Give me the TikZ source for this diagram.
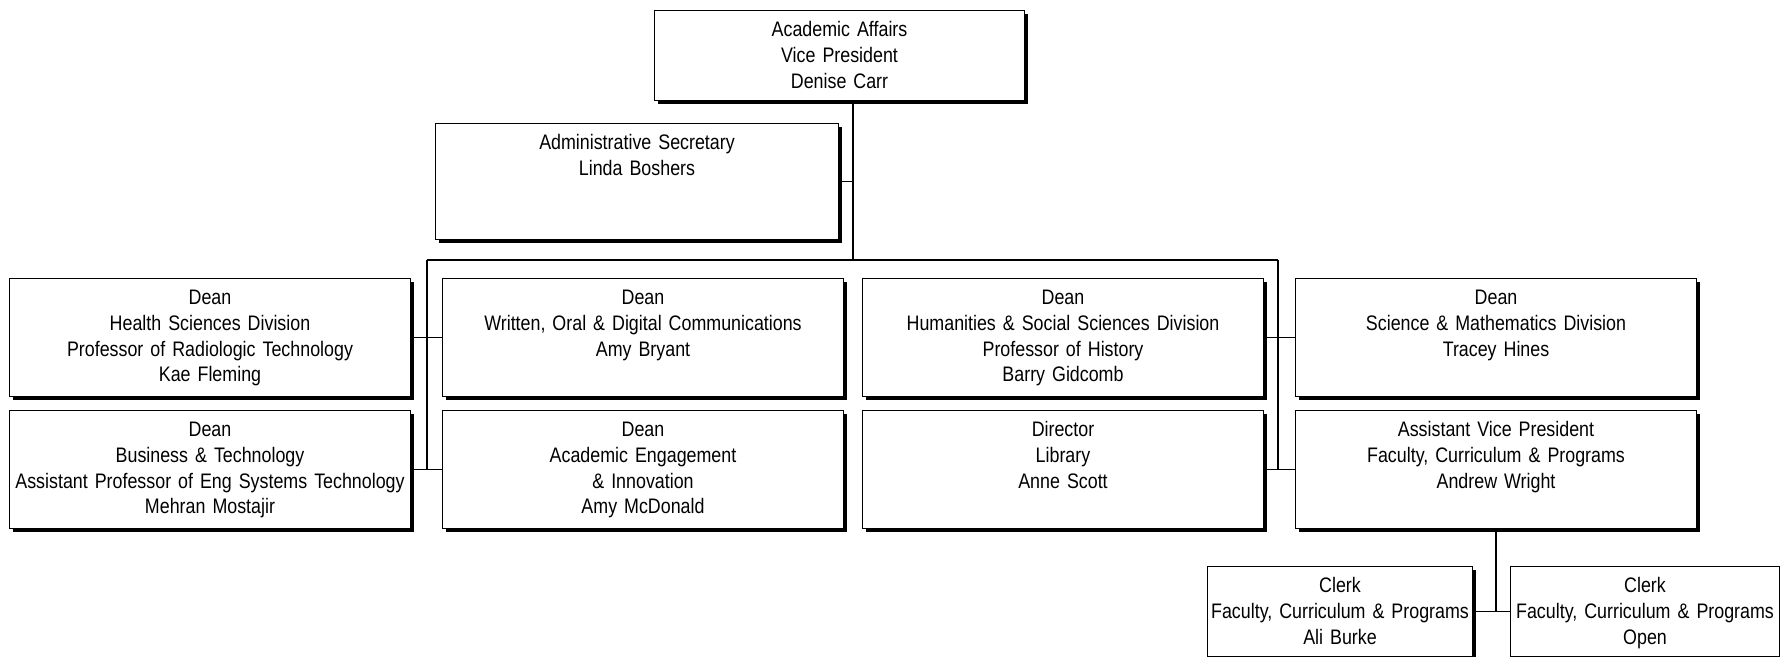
\documentclass[tikz,border=0pt]{standalone}
\usepackage{fontspec}
\setmainfont{Liberation Sans}[FakeStretch=0.85]
\usetikzlibrary{shadows}

\begin{document}
\begin{tikzpicture}[
				x=0.5pt, y=-0.5pt,
				texts/.style = {font=\fontsize{10.5pt}{12.9pt}\selectfont, text=black},
				orgline/.style = {draw=black, line width=0.7pt},
				orgbox/.style = {texts, draw=black, line width=0.5pt, fill=white, align=center,
					anchor=north west, inner xsep=0pt, inner ysep=0pt, text height=13pt,
					drop shadow={shadow xshift=1.6pt, shadow yshift=-1.6pt, opacity=1, fill=black}},
				deanbox/.style = {orgbox, text width=200.5pt, text depth=46pt},
				headbox/.style = {orgbox, text depth=32pt},
				clerkbox/.style = {headbox}
				]
				\useasboundingbox (0,0) rectangle (1780,657);
				\node [headbox, text width=185pt] (vpaa) at (654,10) {Academic Affairs\\Vice President\\Denise Carr};
				\node [orgbox, text width=201.5pt, text depth=45pt] (secr) at (435,123) {Administrative Secretary\\Linda Boshers};
				
				\node [deanbox] (hsd) at (9,278) {Dean\\Health Sciences Division\\Professor of Radiologic Technology\\Kae Fleming};
				\node [deanbox] (woc) at (442,278) {Dean\\Written, Oral \& Digital Communications\\Amy Bryant};
				\node [deanbox] (hss) at (862,278) {Dean\\Humanities \& Social Sciences Division\\Professor of History\\Barry Gidcomb};
				\node [deanbox] (smd) at (1295,278) {Dean\\Science \& Mathematics Division\\Tracey Hines};
				\node [deanbox] (btd) at (9,410) {Dean\\Business \& Technology\\Assistant Professor of Eng Systems Technology\\Mehran Mostajir};
				\node [deanbox] (aei) at (442,410) {Dean\\Academic Engagement\\\& Innovation\\Amy McDonald};
				\node [deanbox] (lib) at (862,410) {Director\\Library\\Anne Scott};
				\node [deanbox] (avp) at (1295,410) {Assistant Vice President\\Faculty, Curriculum \& Programs\\Andrew Wright};
				
				\node [clerkbox, text width=132.5pt] (clerka) at (1207,566) {Clerk\\Faculty, Curriculum \& Programs\\Ali Burke};
				\node [clerkbox, text width=134.5pt] (clerkb) at (1510,566) {Clerk\\Faculty, Curriculum \& Programs\\Open};
				
				\coordinate (spine) at (853,260);
				\coordinate (busl) at (427,260);
				\coordinate (busr) at (1278,260);
				
				\draw [orgline] (vpaa.south -| spine) -- (spine);
				\draw [orgline] (secr.east) -- (secr.east -| spine);
				\draw [orgline] (busl) -- (busr);
				\draw [orgline] (busl) -- (busl |- btd.east);
				\draw [orgline] (busr) -- (busr |- avp.west);
				\draw [orgline] (hsd.east) -- (woc.west);
				\draw [orgline] (btd.east) -- (aei.west);
				\draw [orgline] (hss.east) -- (smd.west);
				\draw [orgline] (lib.east) -- (avp.west);
				\draw [orgline] (avp.south) -- (avp.south |- clerka.east);
				\draw [orgline] (clerka.east) -- (clerkb.west);
				\end{tikzpicture}
\end{document}
